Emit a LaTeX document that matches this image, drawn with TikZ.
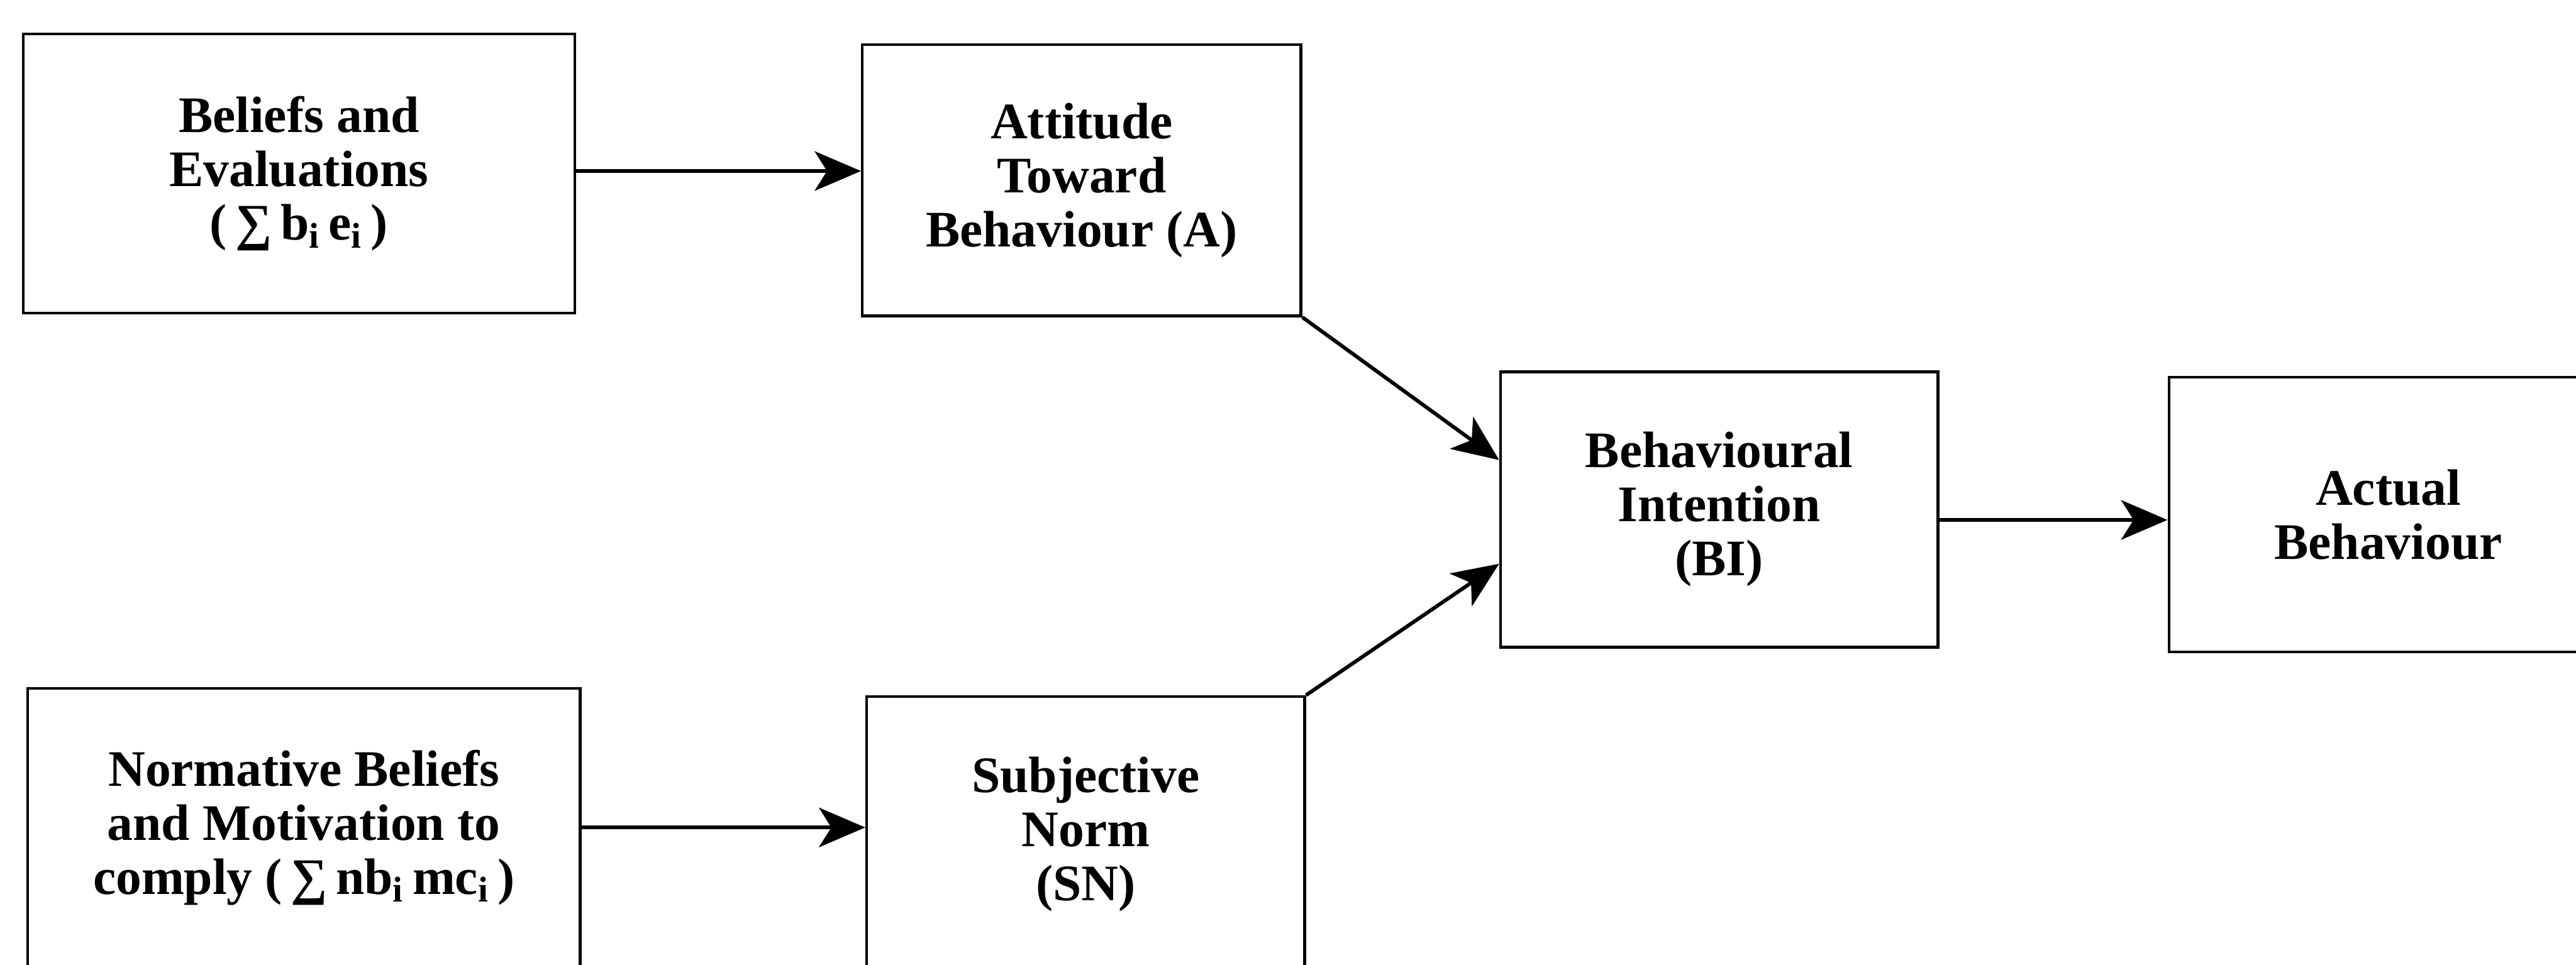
\documentclass[tikz,border=0pt]{standalone}
\usepackage{fontspec}
\setmainfont{Liberation Serif}
\usetikzlibrary{arrows.meta}
\begin{document}
\begin{tikzpicture}[
  box/.style={draw, line width=0.45mm, inner sep=0pt, align=center,
    font=\bfseries\fontsize{23.6pt}{24.9pt}\selectfont},
  link/.style={line width=0.6mm, -{Stealth[length=7.5mm,width=6.4mm,inset=2.0mm]}}
]
\useasboundingbox (0,0) rectangle (41.70,15.62);
\clip (0,0) rectangle (41.70,15.62);

% belief-based inputs
\node[box, minimum width=8.93cm, minimum height=4.52cm] (bel) at (4.84,12.81)
  {Beliefs and\\Evaluations\\(\,∑\,b\textsubscript{i}\,e\textsubscript{i}\,)};
\node[box, minimum width=8.94cm, minimum height=4.50cm] (norm) at (4.92,2.22)
  {Normative Beliefs\\and Motivation to\\comply (\,∑\,nb\textsubscript{i}\,mc\textsubscript{i}\,)};

% attitude and norm constructs
\node[box, minimum width=7.10cm, minimum height=4.39cm] (att) at (17.51,12.70)
  {Attitude\\Toward\\Behaviour (A)};
\node[box, minimum width=7.09cm, minimum height=4.45cm] (sn) at (17.575,2.115)
  {Subjective\\Norm\\(SN)};

% intention and behaviour
\node[box, minimum width=7.08cm, minimum height=4.46cm] (bi) at (27.83,7.37)
  {Behavioural\\Intention\\(BI)};
\node[box, minimum width=7.10cm, minimum height=4.45cm] (act) at (38.66,7.285)
  {Actual\\Behaviour};

% connectors
\coordinate (belout) at ([yshift=0.04cm]bel.east);
\coordinate (biout) at ([yshift=-0.17cm]bi.east);
\draw[link] (belout) -- (att.west |- belout);
\draw[link] (norm.east) -- (sn.west |- norm.east);
\draw[link] (att.south east) -- ([yshift=0.80cm]bi.west);
\draw[link] (sn.north east) -- ([yshift=-0.88cm]bi.west);
\draw[link] (biout) -- (act.west |- biout);
\end{tikzpicture}
\end{document}
